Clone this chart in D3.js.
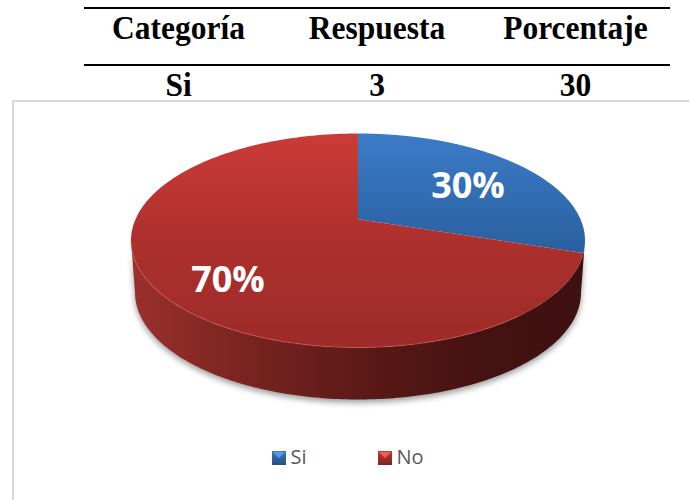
<!DOCTYPE html>
<html><head><meta charset="utf-8">
<script src="https://cdn.jsdelivr.net/npm/d3@7"></script>
<style>html,body{margin:0;padding:0;background:#fff}svg{display:block}</style>
</head><body><svg id="c" width="689" height="500"></svg>
<script>
const categories=["Si","No"];
const values=[30,70];
const tableHeaders=["Categoría","Respuesta","Porcentaje"];
const tableRow=["Si","3","30"];
const labels=["30%","70%"];

const svg=d3.select("#c");
const defs=svg.append("defs");
function grad(id,x1,y1,x2,y2,stops){
  const g=defs.append("linearGradient").attr("id",id).attr("x1",x1).attr("y1",y1).attr("x2",x2).attr("y2",y2);
  stops.forEach(s=>g.append("stop").attr("offset",s[0]).attr("stop-color",s[1]));
}
grad("topBlue",0,0,0,1,[[0,"#3b7cc8"],[1,"#2a5f9f"]]);
grad("topRed",0,0,0,1,[[0,"#cb3b37"],[0.5,"#ad302d"],[1,"#9d2b29"]]);
grad("side",0,0,1,0,[[0,"#9b302c"],[0.25,"#7a2421"],[0.55,"#571815"],[0.8,"#431211"],[1,"#3e100f"]]);
grad("lgBlue",0,0,0,1,[[0,"#3f78bd"],[1,"#25507f"]]);
grad("lgRed",0,0,0,1,[[0,"#c23a36"],[1,"#7c2220"]]);
defs.append("filter").attr("id","blur").attr("x","-10%").attr("y","-10%").attr("width","120%").attr("height","120%")
  .append("feGaussianBlur").attr("stdDeviation",3);

// table
const x=d3.scalePoint().domain(d3.range(3)).range([178.5,575.5]);
const lines=[8,65];
svg.selectAll(".rule").data(lines).join("line").attr("x1",84).attr("x2",670)
  .attr("y1",d=>d).attr("y2",d=>d).attr("stroke","#000").attr("stroke-width",2);
function row(data,y){
  svg.append("g").selectAll("text").data(data).join("text")
    .attr("transform",(d,i)=>`translate(${i===1?377:x(i)},${y}) scale(1,1.08)`)
    .attr("text-anchor","middle").attr("font-family","Liberation Serif").attr("font-weight","bold")
    .attr("font-size",31.5).attr("fill","#000").text(d=>d);
}
row(tableHeaders,39);
row(tableRow,96);

// frame
svg.append("path").attr("d","M689 101H13V500").attr("fill","none").attr("stroke","#d9d9d9").attr("stroke-width",2);

// pie
const cx=358,cy=240.5,rx=227,ry=107,depth=52,baseRx=223,persp=0.817;
const warp=a=>2*Math.atan(persp*Math.tan(a/2));
const pt=a=>{const w=warp(a);return [cx+rx*Math.sin(w),cy-ry*Math.cos(w)];};
const apex=[cx,pt(Math.PI/2)[1]];
const pieData=d3.pie().sort(null)(values);
const ellipse=(a,b,r=rx,dy=0)=>d3.range(0,181).map(i=>{const t=a+(b-a)*i/180;return [cx+r*Math.sin(t),cy+dy-ry*Math.cos(t)];});
const line=d3.line();
const rim=ellipse(Math.PI/2,Math.PI*1.5);
const sideD=line([...rim,...ellipse(Math.PI*1.5,Math.PI/2,baseRx,depth)])+"Z";
svg.append("path").attr("d",sideD).attr("fill","#000").attr("opacity",0.4).attr("filter","url(#blur)").attr("transform","translate(0,3)");
svg.append("path").attr("d",sideD).attr("fill","url(#side)");
const fills=["url(#topBlue)","url(#topRed)"];
function sliceD(d){
  const pts=d3.range(0,361).map(i=>pt(d.startAngle+(d.endAngle-d.startAngle)*i/360));
  return line([apex,...pts])+"Z";
}
svg.append("g").selectAll("path").data(pieData).join("path").attr("d",sliceD).attr("fill",(d,i)=>fills[i]);
svg.append("path").attr("d",line(ellipse(Math.PI*0.75,Math.PI*1.5))).attr("fill","none")
  .attr("stroke","#d9605a").attr("stroke-opacity",0.45).attr("stroke-width",1.2);
const lp=[[468,185],[228,279]];
svg.append("g").selectAll("text").data(labels).join("text")
  .attr("x",(d,i)=>lp[i][0]).attr("y",(d,i)=>lp[i][1]+13)
  .attr("text-anchor","middle").attr("font-family","Open Sans").attr("font-weight","bold")
  .attr("font-size",36).attr("fill","#fff").text(d=>d);
const lg=svg.append("g").selectAll("g").data(categories).join("g").attr("transform",(d,i)=>`translate(${i?378:272},451)`);
lg.append("rect").attr("width",14).attr("height",14).attr("fill",(d,i)=>i?"url(#lgRed)":"url(#lgBlue)");
lg.append("path").attr("d","M1 1H13L7 7Z").attr("fill",(d,i)=>i?"#ee5f5a":"#5b9be6");
lg.append("text").attr("x",18.5).attr("y",13).attr("font-family","Open Sans").attr("font-size",20).attr("fill","#595959").text(d=>d);
</script></body></html>
